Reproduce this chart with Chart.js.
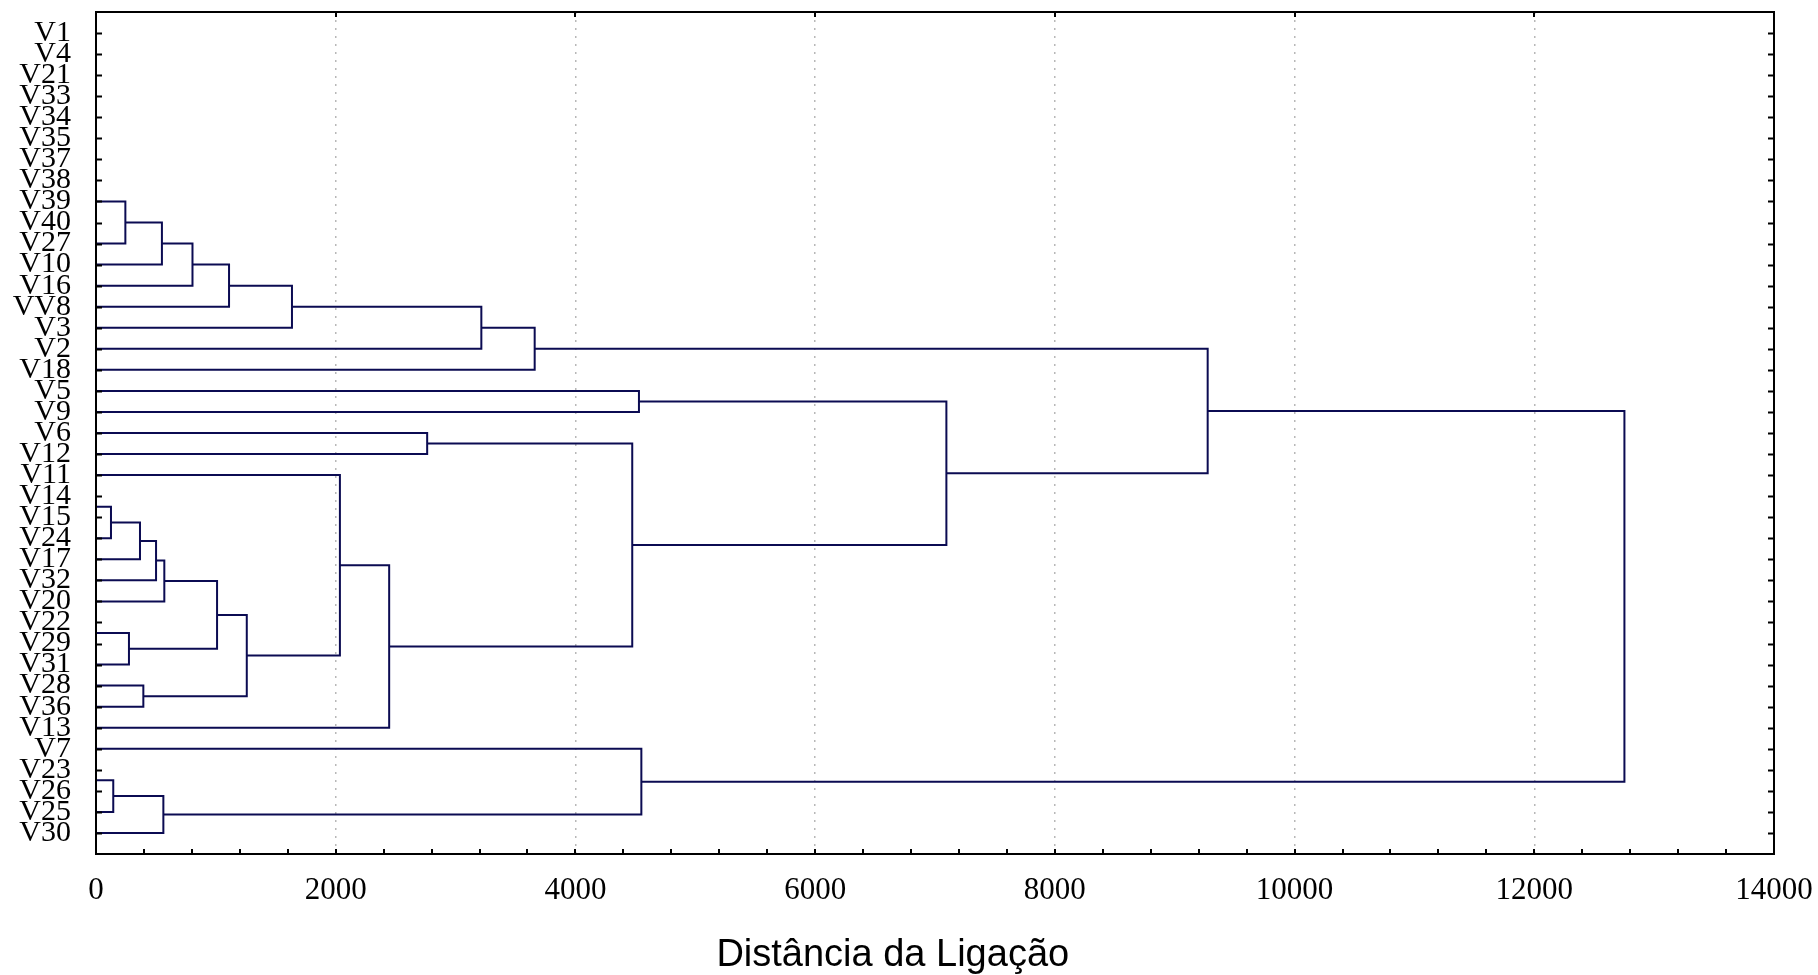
<!DOCTYPE html>
<html>
<head>
<meta charset="utf-8">
<script src="https://cdn.jsdelivr.net/npm/chart.js@4.4.1/dist/chart.umd.min.js"></script>
<style>
    html, body { margin: 0; padding: 0; background: #fff; }
    canvas { display: block; }
</style>
</head>
<body>
<canvas id="tree-chart" width="1818" height="975"></canvas>
<script>
// leaves, top to bottom
const leafLabels = ['V1', 'V4', 'V21', 'V33', 'V34', 'V35', 'V37', 'V38', 'V39', 'V40',
    'V27', 'V10', 'V16', 'VV8', 'V3', 'V2', 'V18', 'V5', 'V9', 'V6', 'V12', 'V11', 'V14',
    'V15', 'V24', 'V17', 'V32', 'V20', 'V22', 'V29', 'V31', 'V28', 'V36', 'V13', 'V7',
    'V23', 'V26', 'V25', 'V30'];

// joins: a leaf name or 'C<n>' (the n-th join), and the linkage distance
const mergeLeft = ['V39', 'C0', 'C1', 'C2', 'C3', 'C4', 'C5', 'V5', 'V6', 'V14',
    'C9', 'C10', 'C11', 'C12', 'V22', 'C14', 'C13', 'V28', 'C16', 'V11',
    'C19', 'C8', 'C7', 'C6', 'V23', 'C24', 'C25', 'V7', 'C23'];
const mergeRight = ['V27', 'V10', 'V16', 'VV8', 'V3', 'V2', 'V18', 'V9', 'V12', 'V15',
    'V24', 'V17', 'V32', 'V20', 'V29', 'V31', 'C15', 'V36', 'C17', 'C18',
    'V13', 'C20', 'C21', 'C22', 'V26', 'V25', 'V30', 'C26', 'C27'];
const mergeHeight = [245, 550, 805, 1110, 1635, 3215, 3660, 4530, 2763, 0,
    125, 367, 501, 570, 0, 275, 1010, 395, 1258, 2035,
    2446, 4474, 7095, 9275, 0, 144, 562, 4550, 12752];

const xTicks = [0, 2000, 4000, 6000, 8000, 10000, 12000, 14000];

(function () {
    const ctx = document.getElementById('tree-chart');
    const lineColor = '#0b0b52';

    // position (1..n) and height of every node
    const nodes = {};
    leafLabels.forEach((name, i) => { nodes[name] = {y: i + 1, h: 0}; });

    const datasets = [];
    mergeHeight.forEach(function (h, i) {
        const a = nodes[mergeLeft[i]];
        const b = nodes[mergeRight[i]];
        nodes['C' + i] = {y: (a.y + b.y) / 2, h: h};
        if (h === 0) return; // zero distance joins sit on the axis
        datasets.push({
            data: [
                {x: a.h, y: a.y}, {x: h, y: a.y},
                {x: h, y: b.y}, {x: b.h, y: b.y},
            ],
            showLine: true,
            borderColor: lineColor,
            borderWidth: 2,
            pointRadius: 0,
            tension: 0,
        });
    });

    // frame with inward ticks, drawn through the scales
    const framePlugin = {
        id: 'frame',
        afterDatasetsDraw(chart) {
            const {ctx: c, chartArea: a, scales: {x, y}} = chart;
            c.save();
            c.strokeStyle = '#000';
            c.lineWidth = 2;
            c.beginPath();
            leafLabels.forEach(function (_, i) {
                const py = Math.round(y.getPixelForValue(i + 1)) + 0.5;
                c.moveTo(a.left, py); c.lineTo(a.left + 6, py);
                c.moveTo(a.right, py); c.lineTo(a.right - 6, py);
            });
            for (let v = xTicks[0]; v <= xTicks[xTicks.length - 1]; v += 400) {
                const px = Math.round(x.getPixelForValue(v));
                c.moveTo(px, a.bottom); c.lineTo(px, a.bottom - 5);
            }
            xTicks.forEach(function (v) {
                const px = Math.round(x.getPixelForValue(v));
                c.moveTo(px, a.top); c.lineTo(px, a.top + 5);
            });
            c.stroke();
            c.strokeRect(a.left, a.top, a.right - a.left, a.bottom - a.top);
            c.restore();
        }
    };

    new Chart(ctx, {
        type: 'scatter',
        data: {datasets: datasets},
        plugins: [framePlugin],
        options: {
            responsive: false,
            animation: false,
            events: [],
            layout: {padding: {top: 12, right: 44, left: 0, bottom: 0}},
            plugins: {
                legend: {display: false},
                tooltip: {enabled: false},
            },
            scales: {
                x: {
                    type: 'linear',
                    position: 'bottom',
                    min: xTicks[0],
                    max: xTicks[xTicks.length - 1],
                    afterBuildTicks: function (scale) {
                        scale.ticks = xTicks.map(v => ({value: v}));
                    },
                    afterFit: function (scale) {
                        scale.height = 121;
                        scale.paddingLeft = 0;
                        scale.paddingRight = 0;
                    },
                    ticks: {
                        color: '#000',
                        padding: 18,
                        maxRotation: 0,
                        font: {family: "'Liberation Serif', 'Times New Roman', serif", size: 31},
                        callback: v => String(v),
                    },
                    grid: {
                        drawTicks: false,
                        lineWidth: 1.5,
                        color: c => (c.tick && (c.tick.value === 0 || c.tick.value === 14000)) ?
                            'rgba(0,0,0,0)' : '#b8b8b8',
                    },
                    border: {display: false, dash: [2, 6]},
                    title: {
                        display: true,
                        // trailing spaces move the centred title left, as in the original
                        text: 'Distância da Ligação' + '\u00a0'.repeat(8),
                        color: '#000',
                        padding: {top: 0, bottom: -3},
                        font: {family: "'Liberation Sans', Arial, sans-serif", size: 38},
                    },
                },
                y: {
                    type: 'linear',
                    min: 0,
                    max: leafLabels.length + 1,
                    reverse: true,
                    afterFit: function (scale) {
                        scale.width = 96;
                        scale.paddingTop = 0;
                        scale.paddingBottom = 0;
                    },
                    ticks: {
                        stepSize: 1,
                        autoSkip: false,
                        color: '#000',
                        padding: 25,
                        font: {family: "'Liberation Serif', 'Times New Roman', serif", size: 30},
                        callback: v => leafLabels[v - 1] || '',
                    },
                    grid: {display: false, drawTicks: false},
                    border: {display: false},
                },
            },
        },
    });
})();
</script>
</body>
</html>
